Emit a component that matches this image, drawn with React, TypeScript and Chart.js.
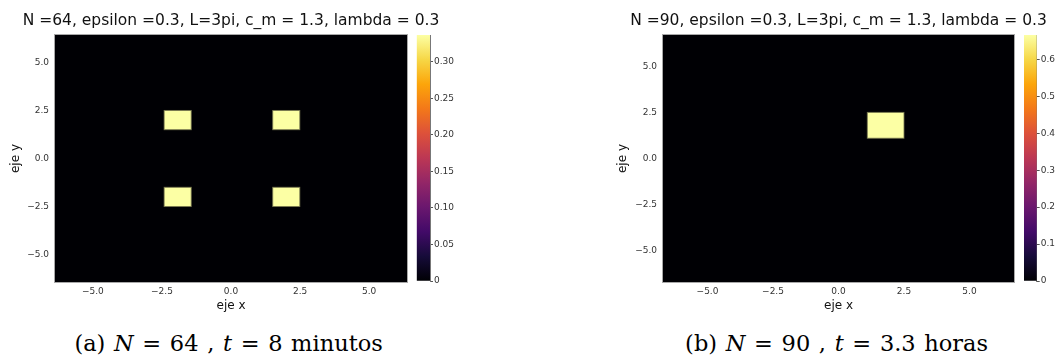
import React, { useEffect, useRef } from "react";
import { Chart, registerables } from "chart.js";
Chart.register(...registerables);

// ---------------- data ----------------
const axisTicks = [-5, -2.5, 0, 2.5, 5];
const axisTickLabels = ["\u22125.0", "\u22122.5", "0.0", "2.5", "5.0"];

const panelA_title = "N =64, epsilon =0.3, L=3pi, c_m = 1.3, lambda = 0.3";
const panelA_xRange = [-6.37, 6.37];
const panelA_yRange = [-6.43, 6.43];
const panelA_cellX0 = [-2.42, 1.51, -2.42, 1.51];
const panelA_cellX1 = [-1.44, 2.49, -1.44, 2.49];
const panelA_cellY0 = [1.5, 1.5, -2.5, -2.5];
const panelA_cellY1 = [2.5, 2.5, -1.5, -1.5];
const panelA_cellValue = [0.3365, 0.3365, 0.3365, 0.3365];
const panelA_backgroundValue = 0;
const panelA_cbarMax = 0.3365;
const panelA_cbarTicks = [0, 0.05, 0.1, 0.15, 0.2, 0.25, 0.3];
const panelA_cbarTickLabels = ["0", "0.05", "0.10", "0.15", "0.20", "0.25", "0.30"];

const panelB_title = "N =90, epsilon =0.3, L=3pi, c_m = 1.3, lambda = 0.3";
const panelB_xRange = [-6.7, 6.7];
const panelB_yRange = [-6.7, 6.7];
const panelB_cellX0 = [1.1];
const panelB_cellX1 = [2.5];
const panelB_cellY0 = [1.1];
const panelB_cellY1 = [2.5];
const panelB_cellValue = [0.666];
const panelB_backgroundValue = 0;
const panelB_cbarMax = 0.666;
const panelB_cbarTicks = [0, 0.1, 0.2, 0.3, 0.4, 0.5, 0.6];
const panelB_cbarTickLabels = ["0", "0.1", "0.2", "0.3", "0.4", "0.5", "0.6"];

// ---------------- colormap (inferno) ----------------
const INFERNO = [
  "#000004", "#160b39", "#420a68", "#6a176e", "#932667", "#bc3754",
  "#dd513a", "#f37819", "#fca50a", "#f6d746", "#fcffa4",
];
function hexToRgb(h: string) {
  return [parseInt(h.slice(1, 3), 16), parseInt(h.slice(3, 5), 16), parseInt(h.slice(5, 7), 16)];
}
function inferno(t: number) {
  const tt = Math.max(0, Math.min(1, t)) * (INFERNO.length - 1);
  const i = Math.min(INFERNO.length - 2, Math.floor(tt));
  const f = tt - i;
  const a = hexToRgb(INFERNO[i]);
  const b = hexToRgb(INFERNO[i + 1]);
  const c = a.map((v, k) => Math.round(v + (b[k] - v) * f));
  return `rgb(${c[0]},${c[1]},${c[2]})`;
}

const FONT = "'DejaVu Sans'";

const heatmapPlugin = {
  id: "heatmapCells",
  beforeDatasetsDraw(chart: any, _args: any, opts: any) {
    const { ctx, chartArea, scales } = chart;
    const xs = scales.x;
    const ys = scales.y;
    ctx.save();
    ctx.beginPath();
    ctx.rect(chartArea.left, chartArea.top, chartArea.width, chartArea.height);
    ctx.clip();
    chart.data.datasets.forEach((ds: any) => {
      ds.data.forEach((c: any) => {
        const px0 = xs.getPixelForValue(c.x0);
        const px1 = xs.getPixelForValue(c.x1);
        const py0 = ys.getPixelForValue(c.y0);
        const py1 = ys.getPixelForValue(c.y1);
        const l = Math.min(px0, px1), t = Math.min(py0, py1);
        const w = Math.abs(px1 - px0), h = Math.abs(py1 - py0);
        ctx.fillStyle = inferno(c.v / opts.vmax);
        ctx.fillRect(l, t, w, h);
        if (c.v > 0) {
          ctx.strokeStyle = "rgba(120,120,80,0.8)";
          ctx.lineWidth = 1;
          ctx.strokeRect(l, t, w, h);
        }
      });
    });
    ctx.restore();
  },
  afterDraw(chart: any) {
    const { ctx, chartArea } = chart;
    ctx.save();
    ctx.strokeStyle = "#a8a8a8";
    ctx.lineWidth = 1;
    ctx.strokeRect(
      Math.round(chartArea.left) - 0.5,
      Math.round(chartArea.top) - 0.5,
      Math.round(chartArea.width) + 1,
      Math.round(chartArea.height) + 1
    );
    ctx.restore();
  },
};

type PanelCfg = {
  title: string;
  xRange: number[];
  yRange: number[];
  cellX0: number[];
  cellX1: number[];
  cellY0: number[];
  cellY1: number[];
  cellValue: number[];
  backgroundValue: number;
  cbarMax: number;
  cbarTicks: number[];
  cbarTickLabels: string[];
  // layout
  mainLeft: number;
  mainWidth: number;
  yAxisWidth: number;
  rightGap: number;
  yTitlePad: number;
  cbLeft: number;
  cbWidth: number;
  cbPadLeft: number;
  cbAxisWidth: number;
};

const CANVAS_H = 320;

function HeatPanel({ cfg }: { cfg: PanelCfg }) {
  const mainRef = useRef<HTMLCanvasElement>(null);
  const cbRef = useRef<HTMLCanvasElement>(null);

  useEffect(() => {
    const cells = [
      {
        x: 0, y: 0,
        x0: cfg.xRange[0], x1: cfg.xRange[1], y0: cfg.yRange[0], y1: cfg.yRange[1],
        v: cfg.backgroundValue,
      },
      ...cfg.cellX0.map((_, i) => ({
        x: (cfg.cellX0[i] + cfg.cellX1[i]) / 2,
        y: (cfg.cellY0[i] + cfg.cellY1[i]) / 2,
        x0: cfg.cellX0[i], x1: cfg.cellX1[i], y0: cfg.cellY0[i], y1: cfg.cellY1[i],
        v: cfg.cellValue[i],
      })),
    ];
    const main = new Chart(mainRef.current as HTMLCanvasElement, {
      type: "scatter",
      data: { datasets: [{ data: cells as any, pointRadius: 0, pointHoverRadius: 0 }] },
      options: {
        animation: false,
        responsive: false,
        maintainAspectRatio: false,
        events: [],
        layout: { padding: 0 },
        plugins: {
          legend: { display: false },
          tooltip: { enabled: false },
          title: {
            display: true,
            text: cfg.title,
            fullSize: true,
            color: "#111",
            font: { family: FONT, size: 15.5, weight: "normal" },
            padding: { top: 11.7, bottom: 4.7 },
          },
          heatmapCells: { vmax: cfg.cbarMax },
        } as any,
        scales: {
          x: {
            type: "linear",
            min: cfg.xRange[0],
            max: cfg.xRange[1],
            afterBuildTicks: (s: any) => { s.ticks = axisTicks.map((v) => ({ value: v })); },
            afterFit: (s: any) => { s.height = CANVAS_H - 282; },
            ticks: {
              autoSkip: false,
              maxRotation: 0,
              padding: 4,
              color: "#333",
              font: { family: FONT, size: 9 },
              callback: (_v: any, i: number) => axisTickLabels[i],
            },
            grid: { display: false, drawTicks: false },
            border: { display: false },
            title: {
              display: true,
              text: "eje x",
              color: "#111",
              font: { family: FONT, size: 12 },
              padding: { top: 0, bottom: 6.8 },
            },
          },
          y: {
            type: "linear",
            min: cfg.yRange[0],
            max: cfg.yRange[1],
            afterBuildTicks: (s: any) => { s.ticks = axisTicks.map((v) => ({ value: v })); },
            afterFit: (s: any) => { s.width = cfg.yAxisWidth; },
            ticks: {
              autoSkip: false,
              padding: 6,
              color: "#333",
              font: { family: FONT, size: 9 },
              callback: (_v: any, i: number) => axisTickLabels[i],
            },
            grid: { display: false, drawTicks: false },
            border: { display: false },
            title: {
              display: true,
              text: "eje y",
              color: "#111",
              font: { family: FONT, size: 12 },
              padding: { top: cfg.yTitlePad, bottom: 0 },
            },
          },
          // empty spacer axis reserving the room where the colour bar sits
          gap: {
            type: "linear",
            position: "right",
            display: true,
            afterFit: (s: any) => { s.width = cfg.rightGap; },
            ticks: { display: false },
            grid: { display: false, drawTicks: false },
            border: { display: false },
          },
        },
      },
      plugins: [heatmapPlugin],
    } as any);

    const cb = new Chart(cbRef.current as HTMLCanvasElement, {
      type: "bar",
      data: {
        labels: ["colorbar"],
        datasets: [
          {
            data: [cfg.cbarMax],
            borderWidth: 0,
            barPercentage: 1,
            categoryPercentage: 1,
            backgroundColor: (c: any) => {
              const area = c.chart.chartArea;
              if (!area) return "#000004";
              const g = c.chart.ctx.createLinearGradient(0, area.bottom, 0, area.top);
              INFERNO.forEach((col, i) => g.addColorStop(i / (INFERNO.length - 1), col));
              return g;
            },
          },
        ],
      },
      options: {
        animation: false,
        responsive: false,
        maintainAspectRatio: false,
        events: [],
        layout: { padding: { left: cfg.cbPadLeft, right: 0, top: 35, bottom: CANVAS_H - 281 } },
        plugins: { legend: { display: false }, tooltip: { enabled: false } },
        scales: {
          x: { display: false },
          y: {
            position: "right",
            min: 0,
            max: cfg.cbarMax,
            afterBuildTicks: (s: any) => { s.ticks = cfg.cbarTicks.map((v) => ({ value: v })); },
            afterFit: (s: any) => { s.width = cfg.cbAxisWidth; },
            ticks: {
              autoSkip: false,
              padding: 1,
              color: "#333",
              font: { family: FONT, size: 9 },
              callback: (_v: any, i: number) => cfg.cbarTickLabels[i],
            },
            grid: { drawOnChartArea: false, tickLength: 3, color: "#555", tickWidth: 1 },
            border: { display: true, color: "#777", width: 1 },
          },
        },
      },
    } as any);

    return () => {
      main.destroy();
      cb.destroy();
    };
  }, [cfg]);

  return (
    <>
      <canvas
        ref={mainRef}
        width={cfg.mainWidth}
        height={CANVAS_H}
        style={{ position: "absolute", left: cfg.mainLeft, top: 0, width: cfg.mainWidth, height: CANVAS_H }}
      />
      <canvas
        ref={cbRef}
        width={cfg.cbWidth}
        height={CANVAS_H}
        style={{ position: "absolute", left: cfg.cbLeft, top: 0, width: cfg.cbWidth, height: CANVAS_H }}
      />
    </>
  );
}

const cfgA: PanelCfg = {
  title: panelA_title,
  xRange: panelA_xRange,
  yRange: panelA_yRange,
  cellX0: panelA_cellX0,
  cellX1: panelA_cellX1,
  cellY0: panelA_cellY0,
  cellY1: panelA_cellY1,
  cellValue: panelA_cellValue,
  backgroundValue: panelA_backgroundValue,
  cbarMax: panelA_cbarMax,
  cbarTicks: panelA_cbarTicks,
  cbarTickLabels: panelA_cbarTickLabels,
  mainLeft: 0,
  mainWidth: 462,
  yAxisWidth: 55,
  rightGap: 462 - 407,
  yTitlePad: 8.7,
  cbLeft: 408,
  cbWidth: 54,
  cbPadLeft: 416.7 - 408,
  cbAxisWidth: 408 + 54 - 430,
};

const cfgB: PanelCfg = {
  title: panelB_title,
  xRange: panelB_xRange,
  yRange: panelB_yRange,
  cellX0: panelB_cellX0,
  cellX1: panelB_cellX1,
  cellY0: panelB_cellY0,
  cellY1: panelB_cellY1,
  cellValue: panelB_cellValue,
  backgroundValue: panelB_backgroundValue,
  cbarMax: panelB_cbarMax,
  cbarTicks: panelB_cbarTicks,
  cbarTickLabels: panelB_cbarTickLabels,
  mainLeft: 615,
  mainWidth: 447,
  yAxisWidth: 663 - 615,
  rightGap: 1062 - 1014,
  yTitlePad: 0.9,
  cbLeft: 1016,
  cbWidth: 46,
  cbPadLeft: 1024 - 1016,
  cbAxisWidth: 1062 - 1036.7,
};

const captionStyle: React.CSSProperties = {
  position: "absolute",
  top: 330,
  width: 420,
  textAlign: "center",
  fontFamily: "'DejaVu Serif', serif",
  fontSize: 22.5,
  lineHeight: "26px",
  wordSpacing: "1.5px",
  color: "#000",
  whiteSpace: "nowrap",
};

export default function App() {
  return (
    <div style={{ position: "absolute", left: 0, top: 0, width: 1062, height: 361, background: "#fff", overflow: "hidden" }}>
      <HeatPanel cfg={cfgA} />
      <HeatPanel cfg={cfgB} />
      <div style={{ ...captionStyle, left: 228.6 - 210 }}>
        (a) <i>N</i> = 64 , <i>t</i> = 8 minutos
      </div>
      <div style={{ ...captionStyle, left: 836.6 - 210 }}>
        (b) <i>N</i> = 90 , <i>t</i> = 3.3 horas
      </div>
    </div>
  );
}
